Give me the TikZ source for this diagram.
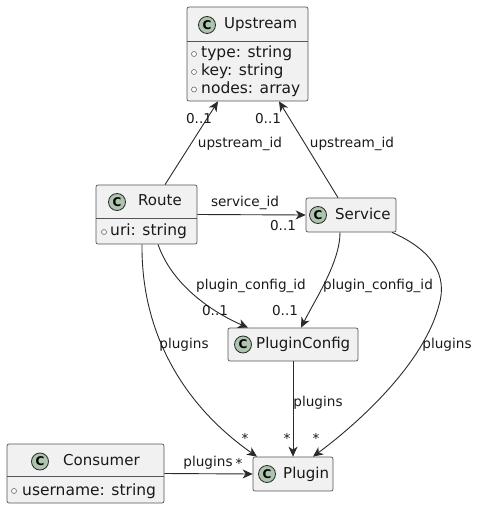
\documentclass[tikz,border=0pt]{standalone}
\usepackage{fontspec}
\setmainfont{DejaVu Sans}
\usetikzlibrary{arrows.meta}
\definecolor{boxfill}{HTML}{F1F1F1}
\definecolor{boxline}{HTML}{555555}
\definecolor{circfill}{HTML}{ADC4AF}
\definecolor{edgecol}{HTML}{2A2A2A}
\begin{document}
\begin{tikzpicture}[x=1pt,y=-1pt,
  classbox/.style={draw=boxline, fill=boxfill, rounded corners=2pt, line width=0.7pt, inner sep=0pt},
  sepline/.style={draw=boxline, line width=0.7pt},
  cicon/.style={circle, draw=edgecol, fill=circfill, line width=0.8pt, minimum size=17pt, inner sep=0pt,
     font=\fontsize{12}{12}\selectfont\bfseries},
  cname/.style={anchor=west, inner sep=0pt, font=\fontsize{15}{18}\selectfont, text height=11pt, text depth=3pt, text=black!90},
  attr/.style={anchor=west, inner sep=0pt, font=\fontsize{15.5}{18}\selectfont, text height=11pt, text depth=3pt, text=black!90},
  adot/.style={circle, draw=black!60, fill=white, line width=0.6pt, minimum size=5pt, inner sep=0pt},
  lbl/.style={inner sep=0pt, font=\fontsize{13.6}{16}\selectfont, text=black!90},
  conn/.style={draw=edgecol, line width=0.9pt, -{Stealth[length=10pt,width=9pt,inset=3pt]}}
]
\useasboundingbox (0,0) rectangle (479,510);

% ---------- Upstream ----------
\node[classbox, minimum width=121pt, minimum height=94pt] (upstream) at (247.5,54) {};
\draw[sepline] ([yshift=-35pt]upstream.north west) -- ([yshift=-35pt]upstream.north east);
\node[cicon] (upstreamc) at (207,25) {C};
\node[cname] (upstreamn) at (224,25) {Upstream};
\node[adot] (ua1) at (194,54) {};
\node[attr] (ut1) at (201,54) {type: string};
\node[adot] (ua2) at (194,72) {};
\node[attr] (ut2) at (201,72) {key: string};
\node[adot] (ua3) at (194,89.5) {};
\node[attr] (ut3) at (201,89.5) {nodes: array};

% ---------- Route ----------
\node[classbox, minimum width=101pt, minimum height=59pt] (route) at (146.5,214.5) {};
\draw[sepline] ([yshift=-34pt]route.north west) -- ([yshift=-34pt]route.north east);
\node[cicon] (routec) at (117,202) {C};
\node[cname] (routen) at (138,202) {Route};
\node[adot] (ra1) at (104,232) {};
\node[attr] (rt1) at (110,232) {uri: string};

% ---------- Service ----------
\node[classbox, minimum width=90pt, minimum height=34pt] (service) at (351,215) {};
\node[cicon] (servicec) at (318,215) {C};
\node[cname] (servicen) at (335,215) {Service};

% ---------- PluginConfig ----------
\node[classbox, minimum width=130pt, minimum height=33pt] (pluginconfig) at (293,344.5) {};
\node[cicon] (pluginconfigc) at (243,344.5) {C};
\node[cname] (pluginconfign) at (256,344.5) {PluginConfig};

% ---------- Consumer ----------
\node[classbox, minimum width=157pt, minimum height=59pt] (consumer) at (85.5,473.5) {};
\draw[sepline] ([yshift=-33pt]consumer.north west) -- ([yshift=-33pt]consumer.north east);
\node[cicon] (consumerc) at (40,461.5) {C};
\node[cname] (consumern) at (63,461.5) {Consumer};
\node[adot] (ca1) at (14,491) {};
\node[attr] (ct1) at (22,491) {username: string};

% ---------- Plugin ----------
\node[classbox, minimum width=80pt, minimum height=34pt] (plugin) at (293,474) {};
\node[cicon] (pluginc) at (267,474) {C};
\node[cname] (pluginn) at (283,474) {Plugin};

% ---------- connectors ----------
\draw[conn] ([xshift=18.5pt]route.north) -- ([xshift=-29.5pt]upstream.south);
\node[lbl] (l1a) at (199,119) {0..1};
\node[lbl] (l1b) at (240,144) {upstream\_id};

\draw[conn] ([xshift=-13pt]service.north) -- ([xshift=31.5pt]upstream.south);
\node[lbl] (l2a) at (268,119) {0..1};
\node[lbl] (l2b) at (352,144) {upstream\_id};

\draw[conn] (route.east) -- (service.west);
\node[lbl] (l3a) at (245,203) {service\_id};
\node[lbl] (l3b) at (283,226) {0..1};

\draw[conn] ([xshift=11.5pt]route.south) .. controls (172,285) and (212,312) .. ([xshift=-45pt]pluginconfig.north);
\node[lbl] (l4a) at (251,286) {plugin\_config\_id};
\node[lbl] (l4b) at (215,311) {0..1};

\draw[conn] ([xshift=-11pt]service.south) .. controls (340,262) and (316,298) .. ([xshift=8pt]pluginconfig.north);
\node[lbl] (l5a) at (378,286) {plugin\_config\_id};
\node[lbl] (l5b) at (285,311) {0..1};

\draw[conn] ([xshift=-4.5pt]route.south) .. controls (141,340) and (190,410) .. ([xshift=-36pt]plugin.north);
\node[lbl] (l6a) at (184,345) {plugins};
\node[lbl] (l6b) at (245,438) {*};

\draw[conn] (pluginconfig.south) -- (plugin.north);
\node[lbl] (l7a) at (318,403) {plugins};
\node[lbl] (l7b) at (287,438) {*};

\draw[conn] ([xshift=41pt]service.south) .. controls (432,250) and (448,275) .. (439,305)
   .. controls (425,360) and (365,418) .. ([xshift=20pt]plugin.north);
\node[lbl] (l8a) at (447,345) {plugins};
\node[lbl] (l8b) at (316,438) {*};

\draw[conn] (consumer.east) -- (plugin.west);
\node[lbl] (l9a) at (208,463) {plugins};
\node[lbl] (l9b) at (239,463) {*};
\end{tikzpicture}
\end{document}
